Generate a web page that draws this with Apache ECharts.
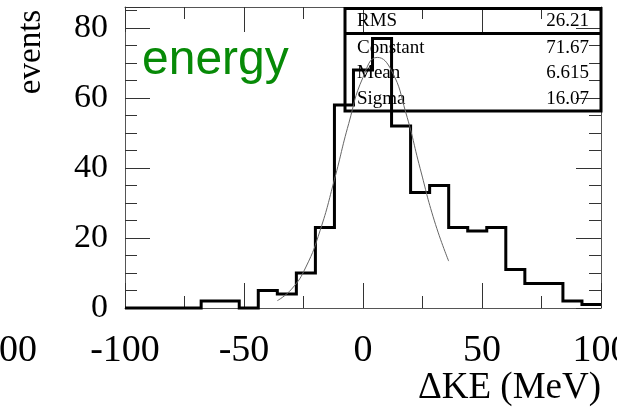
<!DOCTYPE html>
<html>
<head>
<meta charset="utf-8">
<script src="https://cdn.jsdelivr.net/npm/echarts@6/dist/echarts.min.js"></script>
<style>
html,body{margin:0;padding:0;background:#fff;}
#chart{width:617px;height:410px;}
</style>
</head>
<body>
<div id="chart"></div>
<script>
// ---- data ----
const binEdges = [-100,-92,-84,-76,-68,-60,-52,-44,-36,-28,-20,-12,-4,4,12,20,28,36,44,52,60,68,76,84,92,100];
const counts   = [0,0,0,0,2,2,0,5,4,10,23,58,68,77,52,33,35,23,22,23,11,7,7,2,1];
const fitX = [-36,-30,-24,-18,-12,-6,0,6,12,18,24,30,36];
const fitY = [2.1,5.4,11.7,22.2,36.7,52.7,65.9,71.6,67.8,55.8,39.9,24.9,13.4];
const xTicks = [-100,-50,0,50,100];
const yTicks = [0,20,40,60,80];
const statNames  = ['RMS','Constant','Mean','Sigma'];
const statValues = ['26.21','71.67','6.615','16.07'];
const labelText = 'energy';
const xTitle = '\u0394KE (MeV)';
const yTitle = 'events';
const leftNeighbourLabel = '100';

// ---- build ----
const histData = counts.map((c, i) => [binEdges[i], c]);
histData.push([binEdges[binEdges.length - 1], counts[counts.length - 1]]);
const fitData = fitX.map((x, i) => [x, fitY[i]]);

const serif = '"Liberation Serif", "Times New Roman", serif';
const frameColor = '#555';
const tickColor = '#333';

function xAx(pos, showLabel) {
  return {
    type: 'value', min: -100, max: 100, interval: 50, position: pos,
    axisLine: {show: true, onZero: false, lineStyle: {color: frameColor, width: 1}},
    axisTick: {show: true, inside: true, length: 25, lineStyle: {color: tickColor, width: 1}},
    minorTick: {show: true, splitNumber: 2, length: 12, lineStyle: {color: tickColor, width: 1}},
    splitLine: {show: false}, minorSplitLine: {show: false},
    axisLabel: {
      show: showLabel, fontFamily: serif, fontSize: 38, color: '#000', margin: 24,
      hideOverlap: false, showMinLabel: true, showMaxLabel: true,
      formatter: v => xTicks.includes(v) ? String(v) : ''
    }
  };
}
function yAx(pos, interval, len, showLine, showLabel) {
  return {
    type: 'value', min: 0, max: 86, interval: interval, position: pos,
    axisLine: {show: showLine, onZero: false, lineStyle: {color: frameColor, width: 1}},
    axisTick: {show: true, inside: true, length: len, lineStyle: {color: tickColor, width: 1}},
    splitLine: {show: false},
    axisLabel: {
      show: showLabel, fontFamily: serif, fontSize: 34, color: '#000', margin: 17,
      formatter: v => yTicks.includes(v) ? String(v) : ''
    }
  };
}

const chart = echarts.init(document.getElementById('chart'), null, {renderer: 'canvas'});
const rows = [21, 48, 73, 99];
const graphics = [
  {type: 'rect', z: 1, shape: {x: 345, y: 8.5, width: 256, height: 102.5},
   style: {fill: 'rgba(0,0,0,0)', stroke: '#000', lineWidth: 3}},
  {type: 'line', z: 1, shape: {x1: 345, y1: 33.5, x2: 601, y2: 33.5},
   style: {stroke: '#000', lineWidth: 3}},
  {type: 'text', z: 1, x: 142, y: 61,
   style: {text: labelText, fill: '#078a07', font: '48px "Liberation Sans", Arial, sans-serif', align: 'left', verticalAlign: 'middle'}},
  {type: 'text', z: 1, x: 31, y: 52, rotation: Math.PI / 2,
   style: {text: yTitle, fill: '#000', font: '33px ' + serif, align: 'center', verticalAlign: 'middle'}},
  {type: 'text', z: 1, x: 601, y: 388,
   style: {text: xTitle, fill: '#000', font: '37px ' + serif, align: 'right', verticalAlign: 'middle'}},
  {type: 'text', z: 1, x: 37, y: 351,
   style: {text: leftNeighbourLabel, fill: '#000', font: '38px ' + serif, align: 'right', verticalAlign: 'middle'}}
];
statNames.forEach((n, i) => {
  graphics.push({type: 'text', z: 1, x: 357, y: rows[i],
    style: {text: n, fill: '#000', font: '19px ' + serif, align: 'left', verticalAlign: 'middle'}});
  graphics.push({type: 'text', z: 1, x: 589, y: rows[i],
    style: {text: statValues[i], fill: '#000', font: '19px ' + serif, align: 'right', verticalAlign: 'middle'}});
});

chart.setOption({
  animation: false,
  backgroundColor: '#fff',
  grid: {left: 125, right: 16, top: 7, bottom: 102, containLabel: false, outerBoundsMode: 'none'},
  xAxis: [xAx('bottom', true), xAx('top', false)],
  yAxis: [
    yAx('left', 20, 25, true, true),
    yAx('left', 5, 12, false, false),
    yAx('right', 20, 25, true, false),
    yAx('right', 5, 12, false, false)
  ],
  graphic: graphics,
  series: [
    {type: 'line', name: 'hist', data: histData, step: 'end', symbol: 'none', clip: false,
     xAxisIndex: 0, yAxisIndex: 0, z: 5,
     lineStyle: {color: '#000', width: 3, join: 'miter', cap: 'butt'}},
    {type: 'line', name: 'fit', data: fitData, smooth: true, symbol: 'none', clip: false,
     xAxisIndex: 0, yAxisIndex: 0, z: 6,
     lineStyle: {color: '#666', width: 1}}
  ]
});
</script>
</body>
</html>
